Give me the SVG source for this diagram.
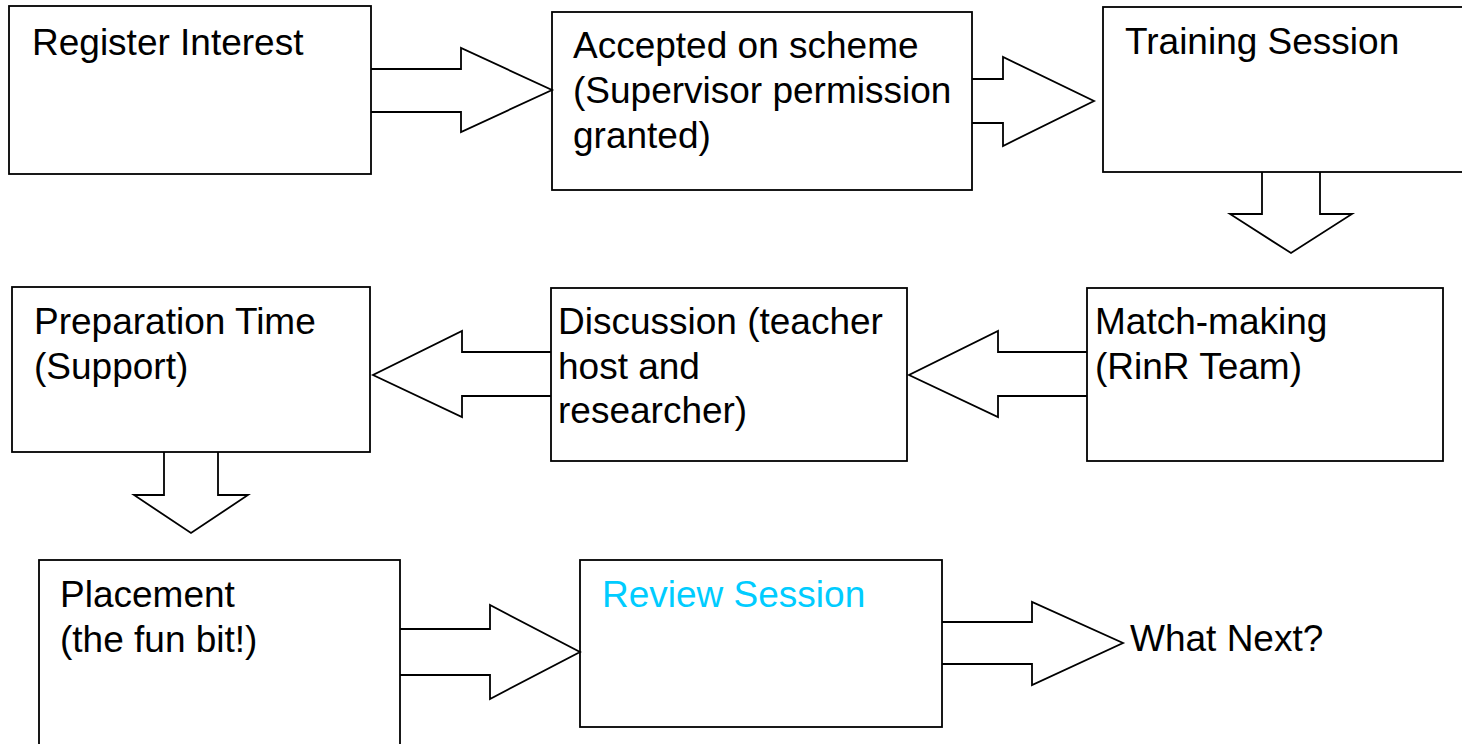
<svg xmlns="http://www.w3.org/2000/svg" width="1462" height="744" viewBox="0 0 1462 744">
<style>
.box{fill:none;stroke:#000;stroke-width:1.8}
.arr{fill:none;stroke:#000;stroke-width:1.8;stroke-linejoin:miter}
text{font-family:"Liberation Sans",Arial,sans-serif;font-size:37px;fill:#000}
.cyan{fill:#00CCFF}
</style>
<rect width="1462" height="744" fill="#fff"/>
<g id="connectors">
<polyline class="arr" points="371,69 461,69 461,48 552,90 461,132 461,112 371,112"/>
<polyline class="arr" points="972,79 1003,79 1003,57 1094,101 1003,146 1003,123 972,123"/>
<polyline class="arr" points="1262,172 1262,214 1230,214 1291,253 1352,214 1320,214 1320,172"/>
<polyline class="arr" points="551,352 462,352 462,331 373,375 462,417 462,396 551,396"/>
<polyline class="arr" points="1087,352 998,352 998,331 909,375 998,417 998,396 1087,396"/>
<polyline class="arr" points="164,452 164,495 134,495 191,533 248,495 218,495 218,452"/>
<polyline class="arr" points="400,629 490,629 490,605 580,652 490,699 490,675 400,675"/>
<polyline class="arr" points="942,622 1032,622 1032,602 1123,643 1032,685 1032,664 942,664"/>
</g>
<g id="register">
<rect class="box" x="9" y="6" width="362" height="168"/>
<text x="32" y="55">Register Interest</text>
</g>
<g id="accepted">
<rect class="box" x="552" y="12" width="420" height="178"/>
<text x="573" y="58">Accepted on scheme</text>
<text x="573" y="103">(Supervisor permission</text>
<text x="573" y="148">granted)</text>
</g>
<g id="training">
<rect class="box" x="1103" y="7" width="370" height="165"/>
<text x="1125" y="54">Training Session</text>
</g>
<g id="matchmaking">
<rect class="box" x="1087" y="288" width="356" height="173"/>
<text x="1095" y="334">Match-making</text>
<text x="1095" y="379">(RinR Team)</text>
</g>
<g id="discussion">
<rect class="box" x="551" y="288" width="356" height="173"/>
<text x="558" y="334">Discussion (teacher</text>
<text x="558" y="379">host and</text>
<text x="558" y="423">researcher)</text>
</g>
<g id="preparation">
<rect class="box" x="12" y="287" width="358" height="165"/>
<text x="34" y="334">Preparation Time</text>
<text x="34" y="379">(Support)</text>
</g>
<g id="placement">
<rect class="box" x="39" y="560" width="361" height="200"/>
<text x="60" y="607">Placement</text>
<text x="60" y="652">(the fun bit!)</text>
</g>
<g id="review">
<rect class="box" x="580" y="560" width="362" height="167"/>
<text class="cyan" x="602" y="607">Review Session</text>
</g>
<g id="whatnext">
<text x="1130" y="651">What Next?</text>
</g>
</svg>
